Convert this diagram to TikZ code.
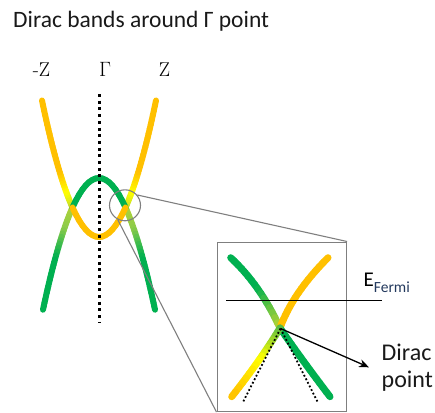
\documentclass[tikz,border=0pt]{standalone}
\usepackage{fontspec}
\usepackage{tikz}
\usetikzlibrary{arrows.meta}
\newfontfamily\calibri{Carlito}
\definecolor{bandorange}{HTML}{FFC000}
\definecolor{bandyellow}{HTML}{FFFF00}
\definecolor{bandlime}{HTML}{B4D335}
\definecolor{bandlight}{HTML}{8CCB4A}
\definecolor{bandmid}{HTML}{4DB748}
\definecolor{banddark}{HTML}{00B050}
\definecolor{lensgray}{HTML}{7F7F7F}
\definecolor{fermiblue}{HTML}{23395D}
\newcommand{\bandw}{6pt}
\tikzset{band/.style={line width=\bandw, line cap=round}}
\tikzset{klabel/.style={font=\fontsize{20}{24}\selectfont, anchor=base, inner sep=0pt}}
\tikzset{dptext/.style={font=\calibri\fontsize{24}{28}\selectfont, anchor=base west, inner sep=0pt, text=black!90}}
\tikzset{zoomline/.style={draw=lensgray, line width=1.1pt}}
% quadratic bezier (x0,y0) (x1,y1) (x2,y2), colours at t=0, 1/2, 1
\newcommand{\gradband}[9]{%
  \foreach \i in {1,...,16}{%
    \pgfmathsetmacro{\ta}{(\i-1)/16}%
    \pgfmathsetmacro{\tb}{\i/16}%
    \pgfmathsetmacro{\xa}{(1-\ta)*(1-\ta)*#1+2*(1-\ta)*\ta*#3+\ta*\ta*#5}%
    \pgfmathsetmacro{\ya}{(1-\ta)*(1-\ta)*#2+2*(1-\ta)*\ta*#4+\ta*\ta*#6}%
    \pgfmathsetmacro{\xb}{(1-\tb)*(1-\tb)*#1+2*(1-\tb)*\tb*#3+\tb*\tb*#5}%
    \pgfmathsetmacro{\yb}{(1-\tb)*(1-\tb)*#2+2*(1-\tb)*\tb*#4+\tb*\tb*#6}%
    \ifnum\i>8
      \pgfmathtruncatemacro{\mix}{(\i-8.5)*12.5}%
      \draw[band, draw=#9!\mix!#8] (\xa,\ya) -- (\xb,\yb);%
    \else
      \pgfmathtruncatemacro{\mix}{(\i-0.5)*12.5}%
      \draw[band, draw=#8!\mix!#7] (\xa,\ya) -- (\xb,\yb);%
    \fi
  }}

\begin{document}
\begin{tikzpicture}[x=1pt,y=-1pt]
\useasboundingbox (0,0) rectangle (435,412);

\node[anchor=base west, inner sep=0pt, font=\calibri\fontsize{23.5}{28}\selectfont, text=black!90] (title) at (13,28) {Dirac bands around Γ point};

\node[klabel] (mz) at (41.5,76.7) {-Z};
\node[klabel] (gam) at (105,76.7) {$\Gamma$};
\node[klabel] (pz) at (164.5,76.7) {Z};

% outer branches
\gradband{125.5}{207.5}{132.25}{192.48}{139}{169.8}{bandlime}{bandyellow}{bandorange}
\gradband{139}{169.8}{147.5}{141.24}{156}{100.5}{bandorange}{bandorange}{bandorange}
\gradband{72.5}{207.5}{65.75}{192.48}{59}{169.8}{bandlime}{bandyellow}{bandorange}
\gradband{59}{169.8}{50.5}{141.24}{42}{100.5}{bandorange}{bandorange}{bandorange}
\gradband{125.5}{207.5}{134.25}{226.97}{143}{259.3}{bandlime}{bandlight}{banddark}
\gradband{143}{259.3}{149}{281.5}{155}{309.7}{banddark}{banddark}{banddark}
\gradband{72.5}{207.5}{63.75}{226.97}{55}{259.3}{bandlime}{bandlight}{banddark}
\gradband{55}{259.3}{49}{281.5}{43}{309.7}{banddark}{banddark}{banddark}
% hump and valley
\gradband{72.5}{207.5}{99}{148.5}{125.5}{207.5}{banddark}{banddark}{banddark}
\gradband{72.5}{207.5}{99}{266.5}{125.5}{207.5}{bandorange}{bandorange}{bandorange}

\coordinate (gtop) at (99,94);
\coordinate (gbot) at (99,323);
\draw[line width=3pt, dash pattern=on 3pt off 3.7pt] (gtop) -- (gbot);

\node[circle, zoomline, minimum size=31pt, inner sep=0pt] (lens) at (125,205.3) {};
\node[rectangle, zoomline, minimum width=129.5pt, minimum height=169.5pt, inner sep=0pt, anchor=north west] (inset) at (216.5,241.5) {};
\draw[zoomline] (lens.40) -- (inset.north east);
\draw[zoomline] (lens.243) -- (inset.south west);

% inset
\renewcommand{\bandw}{7pt}
\gradband{230.7}{257.7}{260.4}{285.3}{280}{328}{banddark}{banddark}{bandlime}
\gradband{328}{257.7}{292.5}{293.2}{280}{328}{bandorange}{bandorange}{bandorange}
\gradband{280}{328}{302}{360}{330}{396.7}{banddark}{banddark}{banddark}
\gradband{280}{328}{262}{358}{231.7}{396.7}{bandmid}{bandyellow}{bandorange}

\coordinate (cone) at (280.5,328.5);
\coordinate (dl) at (242.7,402.7);
\coordinate (dr) at (318.3,403.3);
\draw[line width=1.8pt, dash pattern=on 1.8pt off 2.2pt] (cone) -- (dl);
\draw[line width=1.8pt, dash pattern=on 1.8pt off 2.2pt] (cone) -- (dr);

\coordinate (fl) at (226,300.5);
\coordinate (fr) at (382,300.5);
\draw[line width=1.3pt] (fl) -- (fr);
\node[anchor=base west, inner sep=0pt, font=\calibri\fontsize{21}{25}\selectfont] (ef) at (363.5,286.7) {E\raisebox{-5.5pt}{\fontsize{15.5}{18}\selectfont\color{fermiblue}Fermi}};

\coordinate (tip) at (369,367.3);
\draw[line width=1.3pt, -{Stealth[length=10pt, width=8pt]}] (cone) -- (tip);
\node[dptext] (dirac) at (381.5,360) {Dirac};
\node[dptext] (point) at (381.5,387) {point};

\end{tikzpicture}
\end{document}
